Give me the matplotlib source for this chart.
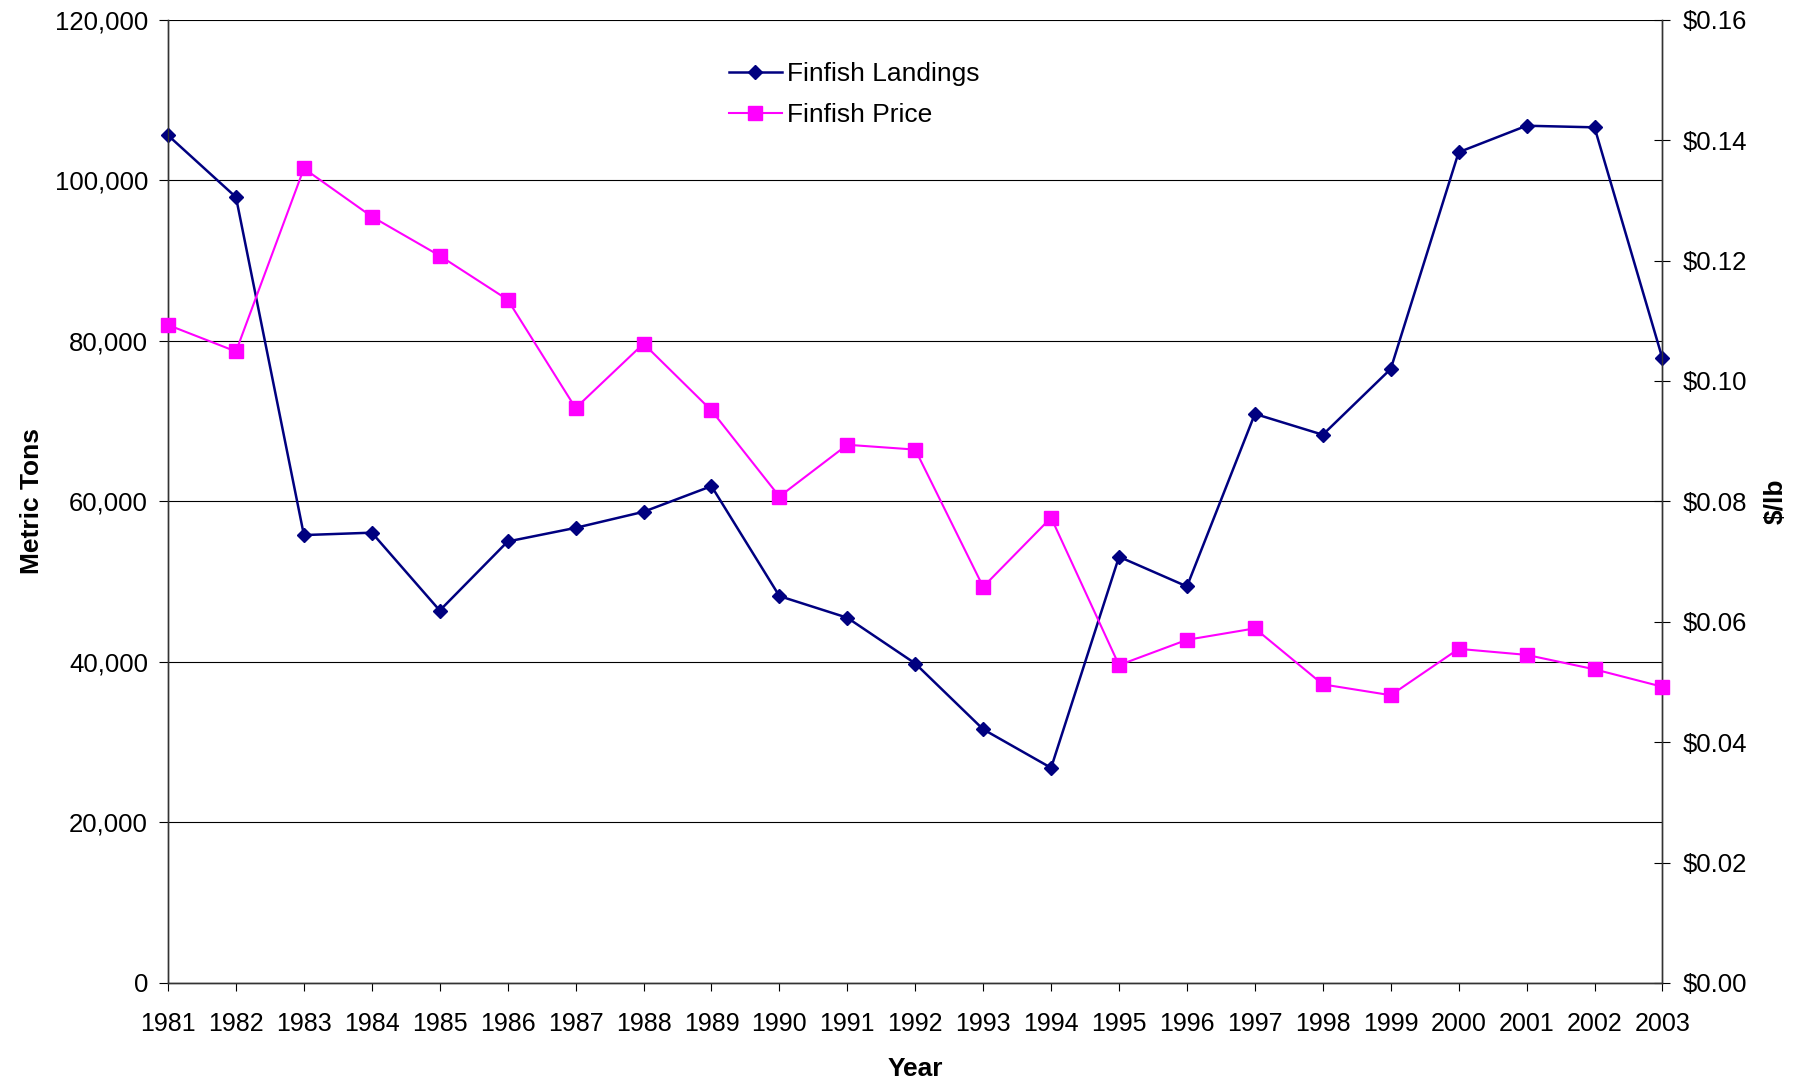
import matplotlib.pyplot as plt
from matplotlib.ticker import FuncFormatter, MultipleLocator

years = list(range(1981, 2004))

landings = [105600, 97900, 55800, 56100, 46400, 55000, 56700, 58700, 61900,
            48200, 45500, 39800, 31600, 26800, 53100, 49400, 70900, 68300,
            76500, 103500, 106800, 106600, 77800]

price = [0.1093, 0.1049, 0.1353, 0.1273, 0.1208, 0.1135, 0.0955, 0.1062,
         0.0951, 0.0808, 0.0894, 0.0886, 0.0658, 0.0773, 0.0528, 0.0570,
         0.0589, 0.0496, 0.0478, 0.0555, 0.0545, 0.0521, 0.0492]

plt.rcParams["font.family"] = ["Liberation Sans", "DejaVu Sans"]

fig = plt.figure(figsize=(18.07, 10.81), dpi=100)
ax = fig.add_axes([0.093, 0.0907, 0.827, 0.891])
ax2 = ax.twinx()

l1, = ax.plot(years, landings, color="#000080", linewidth=1.8, marker="D",
              markersize=7, label="Finfish Landings", clip_on=False, zorder=3)
l2, = ax2.plot(years, price, color="#FF00FF", linewidth=1.5, marker="s",
               markersize=10, label="Finfish Price", clip_on=False, zorder=3)

ax.set_xlim(1981, 2003)
ax.set_ylim(0, 120000)
ax2.set_ylim(0, 0.16)

ax.yaxis.set_major_locator(MultipleLocator(20000))
ax.yaxis.set_major_formatter(FuncFormatter(lambda v, p: f"{v:,.0f}"))
ax2.yaxis.set_major_locator(MultipleLocator(0.02))
ax2.yaxis.set_major_formatter(FuncFormatter(lambda v, p: f"${v:.2f}"))
ax.set_xticks(years)

ax.grid(axis="y", color="black", linewidth=0.8)
ax.set_axisbelow(True)

for a in (ax, ax2):
    for s in a.spines.values():
        s.set_color("#333333")
        s.set_linewidth(1.0)
    a.spines["top"].set_visible(False)

ax.tick_params(axis="y", direction="out", length=6.5, pad=8, labelsize=18.5)
ax.tick_params(axis="x", direction="out", length=6, pad=15, labelsize=18)
ax2.tick_params(axis="y", direction="inout", length=11, pad=9, labelsize=18.5)

ax.set_ylabel("Metric Tons", fontsize=19, fontweight="bold")
ax.yaxis.set_label_coords(-0.083, 0.5)
ax.set_xlabel("Year", fontsize=19, fontweight="bold")
ax.xaxis.set_label_coords(0.5, -0.077)
ax2.set_ylabel("$/lb", fontsize=19, fontweight="bold", rotation=90)
ax2.yaxis.set_label_coords(1.068, 0.5)

fig.legend(handles=[l1, l2], loc="upper left", bbox_to_anchor=(0.396, 0.955),
           frameon=False, fontsize=19, handlelength=2.0, handletextpad=0.2,
           borderpad=0, labelspacing=0.65)

fig.savefig("out.png", dpi=100)
